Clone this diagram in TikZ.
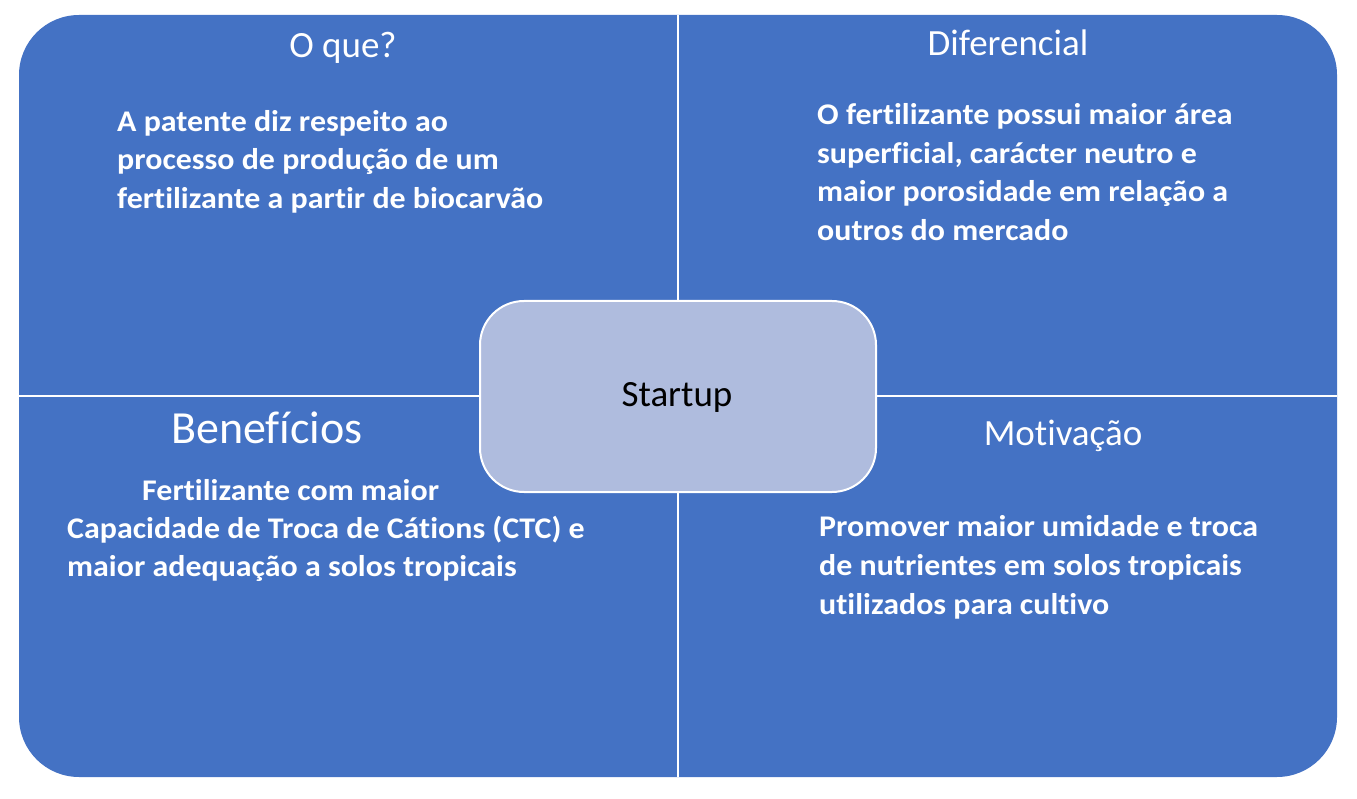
\documentclass[tikz,border=0pt]{standalone}
\usepackage{fontspec}
\setmainfont[Ligatures=NoCommon]{Carlito}
\definecolor{qblue}{HTML}{4472C4}
\definecolor{cfill}{HTML}{AFBCDE}
\begin{document}
\begin{tikzpicture}[x=1pt,y=-1pt,
  head/.style={text=white,inner sep=0pt,anchor=base,font=\fontsize{37}{44}\selectfont},
  bodyline/.style={text=white,inner sep=0pt,anchor=base west,transform shape,xscale=1.065,font=\fontsize{30}{38}\selectfont\bfseries},
  divider/.style={draw=white,line width=2.2pt}]
\useasboundingbox (0,0) rectangle (1357,799);
\fill[qblue,rounded corners=60pt] (19,15) rectangle (1337,777);
\coordinate (vt) at (678,15);
\coordinate (vb) at (678,777);
\coordinate (hl) at (19,396);
\coordinate (hr) at (1337,396);
\draw[divider] (vt) -- (vb);
\draw[divider] (hl) -- (hr);
\node[draw=white,line width=2pt,fill=cfill,rounded corners=44pt,minimum width=396pt,minimum height=191pt,inner sep=0pt] (center) at (678,396.5) {};
\node[inner sep=0pt,anchor=base,font=\fontsize{37}{44}\selectfont] (st) at (677,406.5) {Startup};
% headings
\node[head] (h1) at (343,58) {O que?};
\node[head] (h2) at (1008,55.5) {Diferencial};
\node[head,font=\fontsize{46}{54}\selectfont] (h3) at (267,443) {Benefícios};
\node[head] (h4) at (1063,445.5) {Motivação};
% top-left
\node[bodyline] (a1) at (117,131.7) {A patente diz respeito ao};
\node[bodyline] (a2) at (117,170) {processo de produção de um};
\node[bodyline] (a3) at (117,208.3) {fertilizante a partir de biocarvão};
% top-right
\node[bodyline] (b1) at (817,125) {O fertilizante possui maior área};
\node[bodyline] (b2) at (817,163.5) {superficial, carácter neutro e};
\node[bodyline] (b3) at (817,202) {maior porosidade em relação a};
\node[bodyline] (b4) at (817,240.5) {outros do mercado};
% bottom-left
\node[bodyline] (c1) at (142,500) {Fertilizante com maior};
\node[bodyline] (c2) at (67,538.3) {Capacidade de Troca de Cátions (CTC) e};
\node[bodyline] (c3) at (67,576.6) {maior adequação a solos tropicais};
% bottom-right
\node[bodyline] (d1) at (819,536.7) {Promover maior umidade e troca};
\node[bodyline] (d2) at (819,575.3) {de nutrientes em solos tropicais};
\node[bodyline] (d3) at (819,614) {utilizados para cultivo};
\end{tikzpicture}
\end{document}
